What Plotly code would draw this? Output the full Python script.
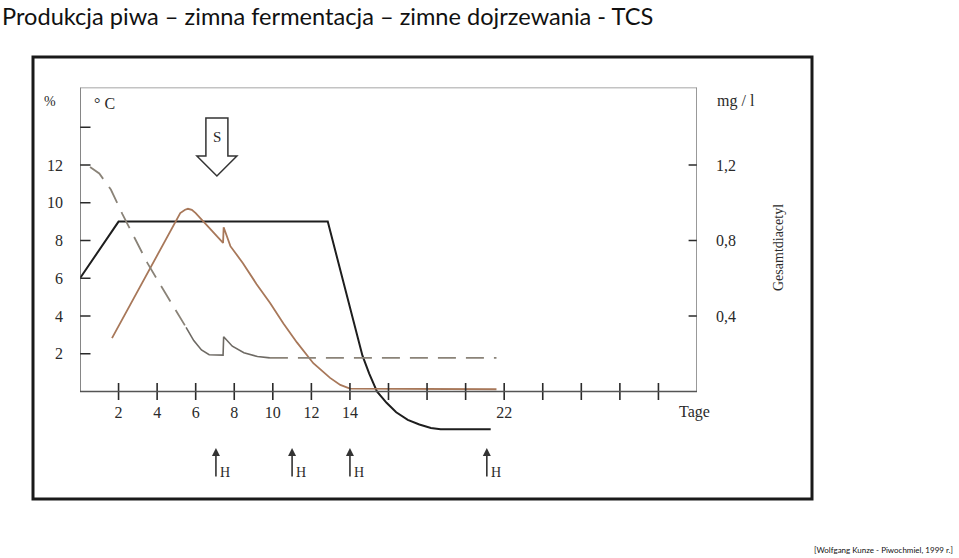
import plotly.graph_objects as go

W, H = 959, 558

# ---------------- data ----------------
# Temperature (°C), black
temp_days = [0, 2, 12.85, 14.65, 15.0, 15.4, 15.9, 16.4, 17.0, 17.6, 18.2, 18.7, 21.3]
temp_vals = [6, 9, 9, 1.9, 0.95, 0.0, -0.6, -1.1, -1.5, -1.75, -1.93, -2.0, -2.0]

# Total diacetyl (mg/l scaled on % axis), brown
diac_days = [1.66, 5.2, 5.45, 5.6, 5.8, 6.0, 7.42, 7.45, 7.8, 8.45, 9.15, 9.85, 10.55,
             11.25, 12.1, 12.97, 13.5, 14.0, 21.6]
diac_vals = [2.83, 9.45, 9.63, 9.68, 9.62, 9.45, 7.87, 8.7, 7.7, 6.8, 5.7, 4.7, 3.6,
             2.6, 1.5, 0.72, 0.35, 0.15, 0.12]

# Extract (%), gray – dashed / solid / dashed parts
ext1_days = [0.52, 1.0, 1.6, 2.2, 2.9, 3.5, 4.2, 4.9, 5.5]
ext1_vals = [11.9, 11.55, 10.7, 9.4, 8.0, 6.8, 5.6, 4.4, 3.4]
ext2_days = [5.5, 5.9, 6.3, 6.7, 7.42, 7.45, 7.9, 8.5, 9.2, 9.85]
ext2_vals = [3.4, 2.7, 2.2, 1.95, 1.93, 2.9, 2.4, 2.05, 1.85, 1.78]
ext3_days = [9.85, 21.6]
ext3_vals = [1.78, 1.78]

xtick_days = [2, 4, 6, 8, 10, 12, 14, 16, 18, 20, 22, 24, 26, 28, 30]
xlabel_days = [2, 4, 6, 8, 10, 12, 14, 22]
xlabel_text = ["2", "4", "6", "8", "10", "12", "14", "22"]
ytick_vals = [2, 4, 6, 8, 10, 12, 14]
ylabel_vals = [2, 4, 6, 8, 10, 12]
y2tick_vals = [0.4, 0.8, 1.2]
y2tick_text = ["0,4", "0,8", "1,2"]

S_day = 7.1
H_days = [7.05, 11.0, 14.0, 21.1]

X_MAX = 32
Y_TOP = 16.1

# ---------------- helpers ----------------
def px(x):
    return x / W

def py(y):
    return 1 - y / H

SERIF = "Liberation Serif, DejaVu Serif, serif"
INK = "#2a2a2a"

fig = go.Figure()

fig.add_trace(go.Scatter(x=temp_days, y=temp_vals, mode="lines",
                         line=dict(color="#1e1e1e", width=2), hoverinfo="skip"))
fig.add_trace(go.Scatter(x=diac_days, y=diac_vals, mode="lines",
                         line=dict(color="#a8785a", width=1.8), hoverinfo="skip"))
fig.add_trace(go.Scatter(x=ext1_days, y=ext1_vals, mode="lines",
                         line=dict(color="#8a8378", width=1.8, dash="18px,10px"), hoverinfo="skip"))
fig.add_trace(go.Scatter(x=ext2_days, y=ext2_vals, mode="lines",
                         line=dict(color="#6e6a64", width=1.6), hoverinfo="skip"))
fig.add_trace(go.Scatter(x=ext3_days, y=ext3_vals, mode="lines",
                         line=dict(color="#8a8378", width=1.8, dash="18px,10px"), hoverinfo="skip"))

# tick marks
fig.add_trace(go.Scatter(x=xtick_days, y=[0] * len(xtick_days), mode="markers",
                         marker=dict(symbol="line-ns-open", size=12, color=INK,
                                     line=dict(color=INK, width=1.6)),
                         hoverinfo="skip"))
fig.add_trace(go.Scatter(x=[0] * len(ytick_vals), y=ytick_vals, mode="markers",
                         marker=dict(symbol="line-ew-open", size=15, color=INK,
                                     line=dict(color=INK, width=1.6)),
                         hoverinfo="skip"))
fig.add_trace(go.Scatter(x=[X_MAX] * len(y2tick_vals), y=y2tick_vals, mode="markers", yaxis="y2",
                         marker=dict(symbol="line-ew-open", size=12, color=INK,
                                     line=dict(color=INK, width=1.6)),
                         hoverinfo="skip"))

# plot frame lines (data coords)
fig.add_shape(type="line", xref="x", yref="y", x0=0, x1=X_MAX, y0=0, y1=0,
              line=dict(color="#555", width=1.3))
fig.add_shape(type="line", xref="x", yref="y", x0=0, x1=0, y0=0, y1=Y_TOP,
              line=dict(color="#444", width=1.3))
fig.add_shape(type="line", xref="x", yref="y", x0=X_MAX, x1=X_MAX, y0=0, y1=Y_TOP,
              line=dict(color="#555", width=1.2))
fig.add_shape(type="line", xref="x", yref="y", x0=0, x1=X_MAX, y0=Y_TOP, y1=Y_TOP,
              line=dict(color="#888", width=1.2))

# outer scan frame
fig.add_shape(type="rect", xref="paper", yref="paper", x0=px(33), x1=px(812), y0=py(499), y1=py(57),
              line=dict(color="#1a1a1a", width=3))

# S arrow (hollow)
fig.add_shape(type="path", xref="x", yref="paper", xsizemode="pixel", ysizemode="pixel",
              xanchor=S_day, yanchor=py(176),
              path="M -11,58 L 11,58 L 11,20 L 20,20 L 0,0 L -20,20 L -11,20 Z",
              line=dict(color="#333", width=1.5), fillcolor="rgba(0,0,0,0)")

def label(x, y, text, size, **kw):
    d = dict(x=px(x), y=py(y), xref="paper", yref="paper", text=text, showarrow=False,
             xanchor="center", yanchor="middle", font=dict(family=SERIF, size=size, color=INK))
    d.update(kw)
    return d

annotations = []
annotations.append(dict(x=S_day, y=py(137), xref="x", yref="paper", text="S", showarrow=False,
                        xanchor="center", yanchor="middle",
                        font=dict(family=SERIF, size=15, color=INK)))
for d in H_days:
    annotations.append(dict(x=d, y=py(448), xref="x", yref="paper", text="", showarrow=True,
                            ax=0, ay=30, arrowhead=2, arrowsize=1, arrowwidth=1.6, arrowcolor="#333"))
    annotations.append(dict(x=d, y=py(472), xref="x", yref="paper", text="H", showarrow=False,
                            xanchor="center", yanchor="middle",
                            xshift=9, font=dict(family=SERIF, size=14, color=INK)))

annotations += [
    dict(x=0, y=1, xref="paper", yref="paper", xanchor="left", yanchor="top",
         text="Produkcja piwa – zimna fermentacja – zimne dojrzewania - TCS", showarrow=False,
         font=dict(family="Lato, Open Sans, sans-serif", size=23.6, color="#111")),
    dict(x=px(955), y=py(557), xref="paper", yref="paper", xanchor="right", yanchor="bottom",
         text="[Wolfgang Kunze - Piwochmiel, 1999 r.]", showarrow=False,
         font=dict(family="Lato, Open Sans, sans-serif", size=8, color="#111")),
    label(50, 101, "%", 14),
    label(104, 103, "° C", 16),
    label(736, 101, "mg / l", 16),
    label(694, 412, "Tage", 16),
    label(778, 248, "Gesamtdiacetyl", 14, textangle=-90),
]

y_lo = -2.6
ppu = 18.875
zero_px = 391.5
dom_bottom = py(zero_px - y_lo * ppu)
dom_top = py(zero_px - Y_TOP * ppu)

tickfont = dict(family=SERIF, size=16, color=INK)

fig.update_layout(
    width=W, height=H,
    margin=dict(l=0, r=0, t=0, b=0),
    paper_bgcolor="white", plot_bgcolor="rgba(0,0,0,0)",
    showlegend=False,
    annotations=annotations,
    xaxis=dict(domain=[px(80), px(697)], range=[0, X_MAX], anchor="free", position=py(zero_px),
               showgrid=False, zeroline=False, showline=False, ticks="",
               tickmode="array", tickvals=xlabel_days, ticktext=xlabel_text, ticklabelstandoff=9,
               tickfont=tickfont, fixedrange=True),
    yaxis=dict(domain=[dom_bottom, dom_top], range=[y_lo, Y_TOP], anchor="free", position=px(80),
               showgrid=False, zeroline=False, showline=False, ticks="",
               tickmode="array", tickvals=ylabel_vals, ticktext=[str(v) for v in ylabel_vals],
               ticklabelstandoff=17, tickfont=tickfont, fixedrange=True),
    yaxis2=dict(domain=[dom_bottom, dom_top], range=[y_lo / 10, Y_TOP / 10], overlaying="y",
                side="right", anchor="free", position=px(697),
                showgrid=False, zeroline=False, showline=False, ticks="",
                tickmode="array", tickvals=y2tick_vals, ticktext=y2tick_text,
                ticklabelstandoff=18, tickfont=tickfont, fixedrange=True),
)

fig.write_html("out.html")
